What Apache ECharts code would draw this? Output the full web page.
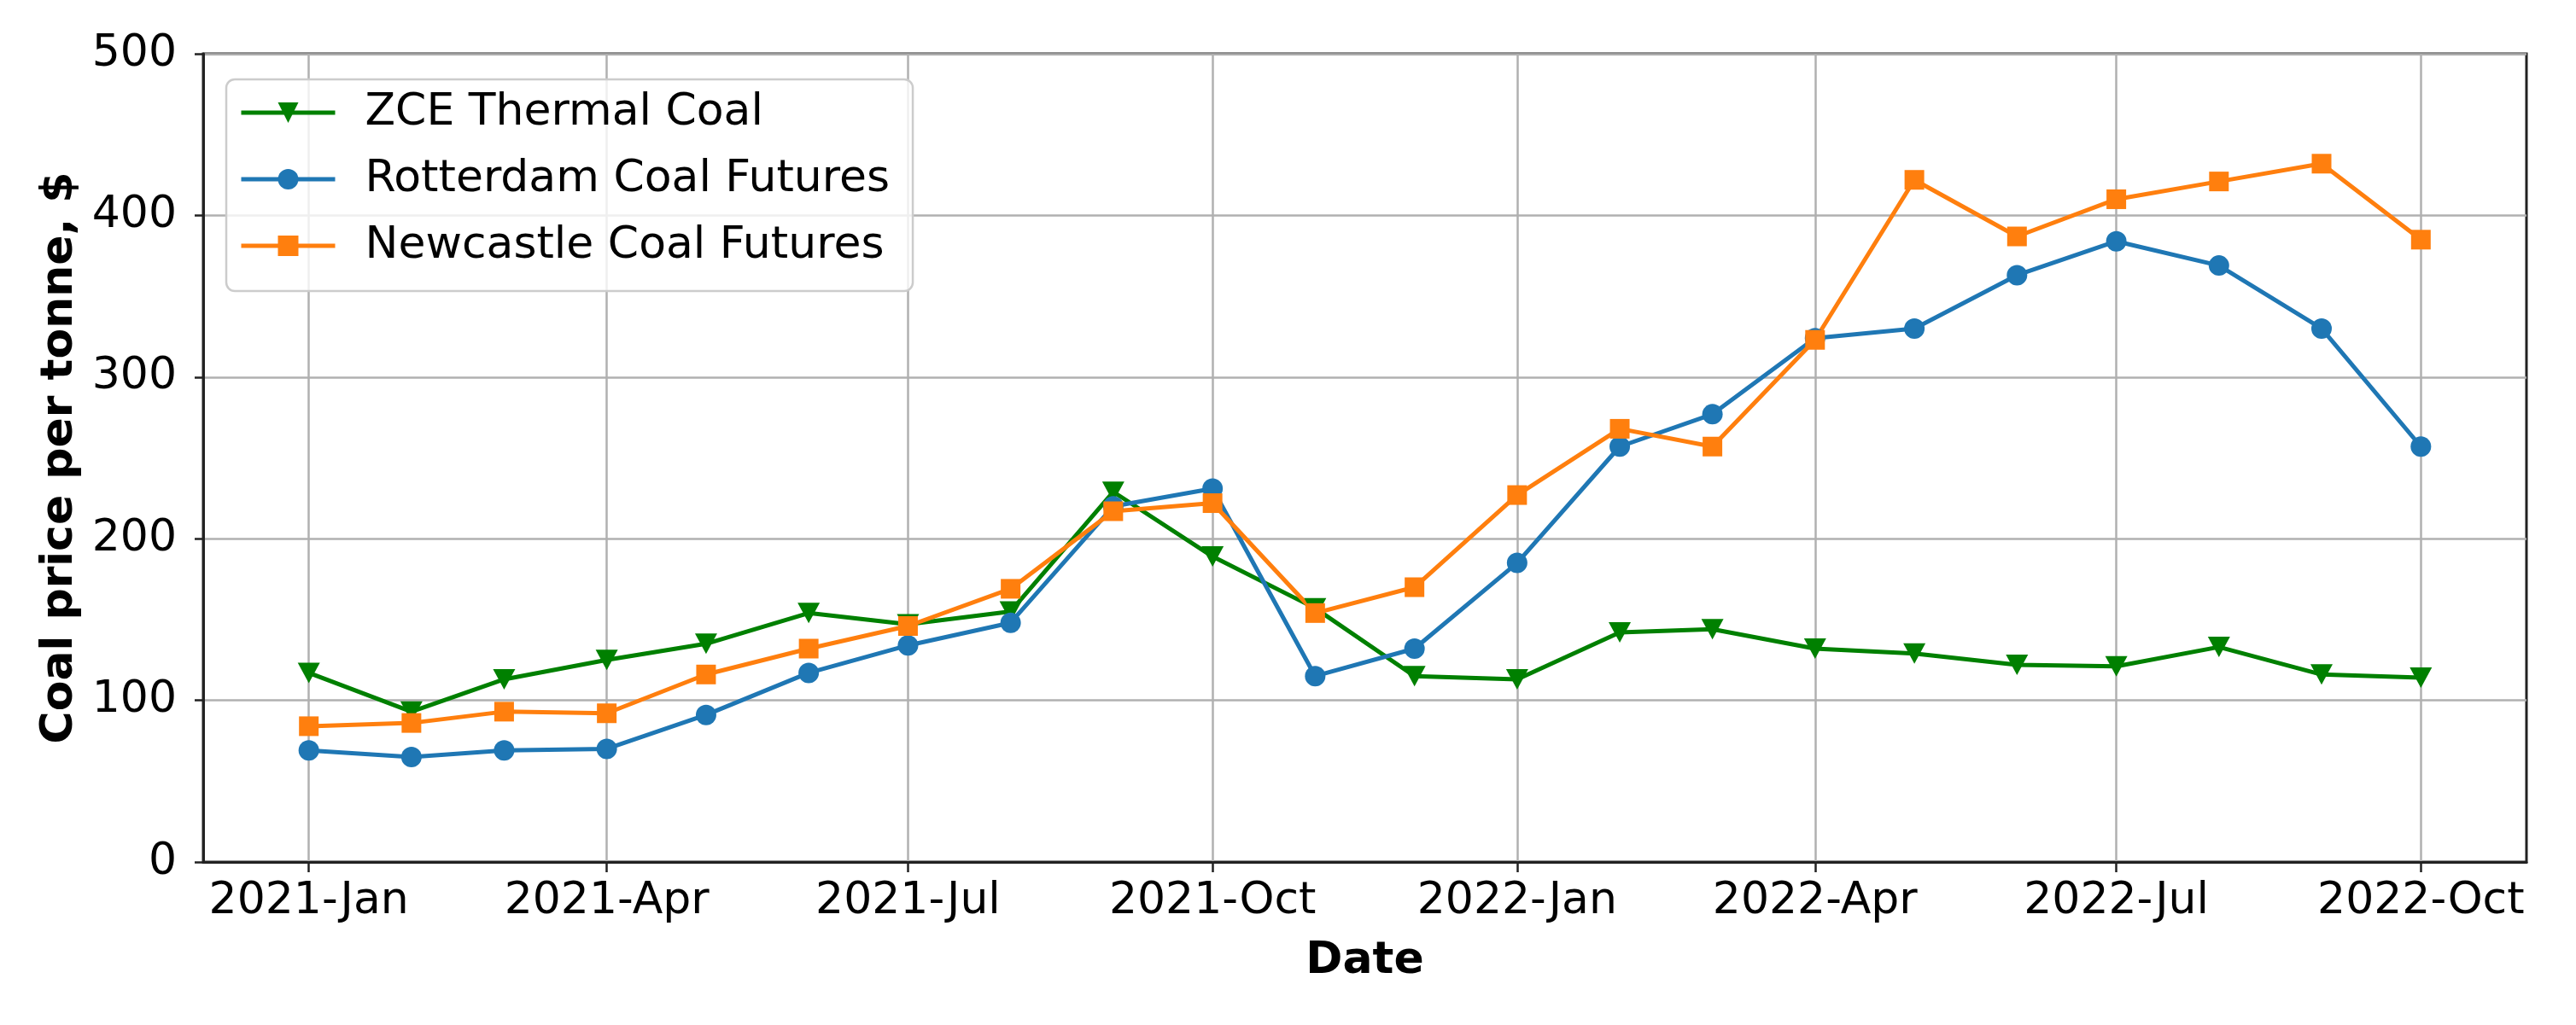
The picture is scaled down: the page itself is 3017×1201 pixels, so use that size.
<!DOCTYPE html>
<html>
<head>
<meta charset="utf-8">
<script src="https://cdn.jsdelivr.net/npm/echarts@6/dist/echarts.min.js"></script>
<style>
html,body{margin:0;padding:0;background:#ffffff;}
#chart{width:3017px;height:1201px;}
</style>
</head>
<body>
<div id="chart"></div>
<script>
// ---- data ----
const months = ['2021-01-01','2021-02-01','2021-03-01','2021-04-01','2021-05-01','2021-06-01',
  '2021-07-01','2021-08-01','2021-09-01','2021-10-01','2021-11-01','2021-12-01',
  '2022-01-01','2022-02-01','2022-03-01','2022-04-01','2022-05-01','2022-06-01',
  '2022-07-01','2022-08-01','2022-09-01','2022-10-01'];
const zceThermal = [117, 93, 113, 125, 135, 154, 147, 155, 229, 189, 157, 115,
  113, 142, 144, 132, 129, 122, 121, 133, 116, 114];
const rotterdam = [69, 65, 69, 70, 91, 117, 134, 148, 220, 231, 115, 132,
  185, 257, 277, 324, 330, 363, 384, 369, 330, 257];
const newcastle = [84, 86, 93, 92, 116, 132, 146, 169, 217, 222, 154, 170,
  227, 268, 257, 323, 422, 387, 410, 421, 432, 385];
const xTickDates = ['2021-01-01','2021-04-01','2021-07-01','2021-10-01',
  '2022-01-01','2022-04-01','2022-07-01','2022-10-01'];
const xTickLabels = ['2021-Jan','2021-Apr','2021-Jul','2021-Oct',
  '2022-Jan','2022-Apr','2022-Jul','2022-Oct'];
const yTickValues = [0, 100, 200, 300, 400, 500];
const seriesNames = ['ZCE Thermal Coal','Rotterdam Coal Futures','Newcastle Coal Futures'];

// ---- helpers ----
function ts(s){ const p = s.split('-').map(Number); return Date.UTC(p[0], p[1]-1, p[2]); }
const monthTs = months.map(ts);
const xTickTs = xTickDates.map(ts);
const span = monthTs[monthTs.length-1] - monthTs[0];
const xMin = monthTs[0] - 0.05*span;
const xMax = monthTs[monthTs.length-1] + 0.05*span;
function pairs(vals){ return vals.map((v,i)=>[monthTs[i], v]); }

const FONT = 'DejaVu Sans';
const FS = 52;

const chart = echarts.init(document.getElementById('chart'), null, {renderer:'canvas'});
const option = {
  animation: false,
  backgroundColor: '#ffffff',
  textStyle: {fontFamily: FONT},
  grid: {left: 238, right: 58, top: 63, bottom: 191, show: true,
         borderColor: '#222222', borderWidth: 3, backgroundColor: 'transparent', containLabel: false},
  legend: {
    orient: 'vertical', left: 265, top: 93,
    padding: [13, 27, 27, 15],
    itemWidth: 110, itemHeight: 30, itemGap: 26,
    backgroundColor: 'rgba(255,255,255,0.8)',
    borderColor: '#cccccc', borderWidth: 2.5, borderRadius: 10,
    lineStyle: {width: 5},
    textStyle: {fontFamily: FONT, fontSize: FS, color: '#000000', lineHeight: 52, padding: [0,0,0,30]},
    data: seriesNames
  },
  xAxis: {
    type: 'value', min: xMin, max: xMax, scale: true,
    name: 'Date', nameLocation: 'middle', nameGap: 90,
    nameTextStyle: {fontFamily: FONT, fontSize: FS, fontWeight: 'bold', color: '#000000'},
    axisLine: {show: true, onZero: false, lineStyle: {color: '#222222', width: 3}},
    axisTick: {show: true, inside: false, length: 12, lineStyle: {color: '#222222', width: 2.5}, customValues: xTickTs},
    axisLabel: {show: true, margin: 20, fontFamily: FONT, fontSize: FS, color: '#000000',
      customValues: xTickTs, hideOverlap: false,
      formatter: function(v){ const i = xTickTs.indexOf(v); return i >= 0 ? xTickLabels[i] : ''; }},
    splitLine: {show: true, lineStyle: {color: '#b0b0b0', width: 2.5}},
    minorTick: {show: false}, minorSplitLine: {show: false}
  },
  yAxis: {
    type: 'value', min: 0, max: 500, interval: 100,
    name: 'Coal price per tonne, $', nameLocation: 'middle', nameGap: 140, nameRotate: 90,
    nameTextStyle: {fontFamily: FONT, fontSize: FS, fontWeight: 'bold', color: '#000000'},
    axisLine: {show: true, lineStyle: {color: '#222222', width: 3}},
    axisTick: {show: true, inside: false, length: 10, lineStyle: {color: '#222222', width: 2.5}},
    axisLabel: {show: true, margin: 31, fontFamily: FONT, fontSize: FS, color: '#000000',
      formatter: function(v){ return yTickValues.indexOf(v) >= 0 ? String(v) : ''; }},
    splitLine: {show: true, lineStyle: {color: '#b0b0b0', width: 2.5}}
  },
  series: [
    {name: seriesNames[0], type: 'line', data: pairs(zceThermal),
     symbol: 'triangle', symbolRotate: 180, symbolSize: [26, 24], showAllSymbol: true,
     itemStyle: {color: '#008000'}, lineStyle: {color: '#008000', width: 5}},
    {name: seriesNames[1], type: 'line', data: pairs(rotterdam),
     symbol: 'circle', symbolSize: 24, showAllSymbol: true,
     itemStyle: {color: '#1f77b4'}, lineStyle: {color: '#1f77b4', width: 5}},
    {name: seriesNames[2], type: 'line', data: pairs(newcastle),
     symbol: 'rect', symbolSize: 23, showAllSymbol: true,
     itemStyle: {color: '#ff7f0e'}, lineStyle: {color: '#ff7f0e', width: 5}}
  ]
};
chart.setOption(option);
</script>
</body>
</html>
